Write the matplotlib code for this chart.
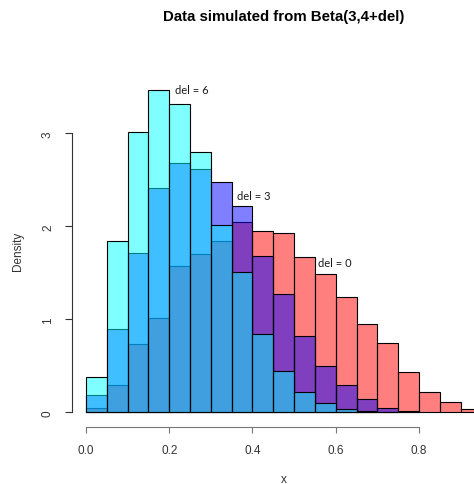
import numpy as np
import matplotlib
matplotlib.use("Agg")
import matplotlib.pyplot as plt

# histogram densities, bin width 0.05 starting at 0
bin_width = 0.05
dens_del0 = [0.046, 0.29, 0.734, 1.01, 1.57, 1.70, 1.84, 2.05, 1.95, 1.925,
             1.67, 1.49, 1.24, 0.95, 0.74, 0.43, 0.215, 0.107, 0.035]
dens_del3 = [0.183, 0.896, 1.71, 2.41, 2.68, 2.62, 2.48, 2.22, 1.68, 1.27,
             0.82, 0.50, 0.29, 0.143, 0.05, 0.017]
dens_del6 = [0.376, 1.846, 3.01, 3.466, 3.31, 2.80, 2.01, 1.505, 0.845, 0.44,
             0.215, 0.097, 0.035, 0.01, 0.005]

labels = ["del = 0", "del = 3", "del = 6"]
label_x = [0.597, 0.403, 0.255]
label_y = [1.616, 2.326, 3.476]

plt.rcParams["font.family"] = ["Liberation Sans", "DejaVu Sans"]

fig = plt.figure(figsize=(4.74, 4.85), dpi=100)
ax = fig.add_axes([72 / 474, 57 / 485, 402 / 474, 388 / 485])

fills = [(1, 0, 0, 0.5), (0, 0, 1, 0.5), (0, 1, 1, 0.5)]
for dens, col in zip([dens_del0, dens_del3, dens_del6], fills):
    left = np.arange(len(dens)) * bin_width
    ax.bar(left, dens, width=bin_width, align="edge", color=col,
           edgecolor="black", linewidth=0.8)

for lab, tx, ty in zip(labels, label_x, label_y):
    ax.text(tx, ty, lab, ha="center", va="center", fontsize=8,
            family=["Lato", "DejaVu Sans"], color="#1a1a1a")

ax.set_xlim(-0.0336, 0.9321)
ax.set_ylim(-0.158, 4.014)

# R-style detached axes
for side in ["top", "right"]:
    ax.spines[side].set_visible(False)
ax.spines["left"].set_bounds(0, 3)
ax.spines["bottom"].set_bounds(0, 0.8)
ax.spines["left"].set_color("#333333")
ax.spines["bottom"].set_color("#777777")
ax.spines["left"].set_linewidth(0.8)
ax.spines["bottom"].set_linewidth(0.8)

ax.set_xticks([0, 0.2, 0.4, 0.6, 0.8])
ax.set_xticklabels(["0.0", "0.2", "0.4", "0.6", "0.8"])
ax.set_yticks([0, 1, 2, 3])
ax.tick_params(axis="x", direction="out", length=4.5, width=0.8,
               color="#777777", pad=8, labelsize=8.5, labelcolor="#333333")
ax.tick_params(axis="y", direction="out", length=5, width=0.8,
               color="#333333", pad=8, labelsize=8.5, labelcolor="#333333",
               labelrotation=90)
for t in ax.get_yticklabels():
    t.set_va("center")

fig.text(18 / 474, 1 - 251 / 485, "Density", rotation=90, ha="center",
         va="center", fontsize=8.5, color="#333333")
fig.text(284 / 474, 1 - 480 / 485, "x", ha="center", va="center",
         fontsize=8.5, color="#333333")
fig.text(284 / 474, 1 - 17 / 485, "Data simulated from Beta(3,4+del)",
         ha="center", va="center", fontsize=10.8, fontweight="bold")

fig.savefig("out.png", dpi=100)
